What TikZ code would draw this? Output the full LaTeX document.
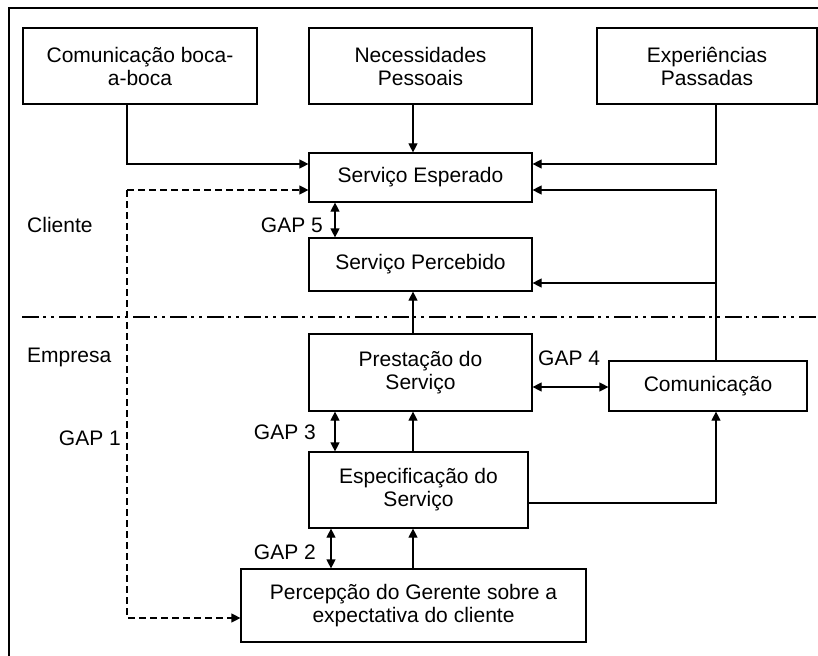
\documentclass[tikz,border=0pt]{standalone}
\usepackage{fontspec}
\setmainfont{Liberation Sans}
\usetikzlibrary{arrows.meta}
\begin{document}
\begin{tikzpicture}[x=1pt,y=-1pt,
  box/.style={draw,line width=1.2pt,rectangle,align=center,inner sep=0pt,font=\fontsize{21}{23}\selectfont},
  lbl/.style={inner sep=0pt,font=\fontsize{21}{23}\selectfont},
  conn/.style={line width=1.2pt},
  tip/.tip={Triangle[length=9pt,width=9pt]},
  arr/.style={conn,-tip},
  darr/.style={conn,tip-tip},
  dsh/.style={conn,dash pattern=on 7pt off 4pt}]
\useasboundingbox (0,0) rectangle (818,655);
\fill[white] (0,0) rectangle (818,655);
\draw[line width=1.4pt] (9,660) -- (9,8) -- (823,8);
% boxes
\node[box,minimum width=234pt,minimum height=76pt] (boca) at (140,66) {Comunicação boca-\\a-boca};
\node[box,minimum width=223pt,minimum height=76pt] (nec) at (420.5,66) {Necessidades\\Pessoais};
\node[box,minimum width=220pt,minimum height=76pt] (exp) at (707,66) {Experiências\\Passadas};
\node[box,minimum width=223pt,minimum height=49pt] (esp) at (420.5,177.5) {Serviço Esperado};
\node[box,minimum width=223pt,minimum height=53pt] (perc) at (420.5,264.5) {Serviço Percebido};
\node[box,minimum width=223pt,minimum height=77pt] (prest) at (420.5,372.5) {Prestação do\\Serviço};
\node[box,minimum width=198pt,minimum height=50pt] (com) at (708,386) {Comunicação};
\node[box,minimum width=219pt,minimum height=76pt] (espec) at (418.5,490) {Especificação do\\Serviço};
\node[box,minimum width=345pt,minimum height=73pt] (ger) at (413.5,605.5) {Percepção do Gerente sobre a\\expectativa do cliente};
% labels
\node[lbl,anchor=west] (cli) at (27,225) {Cliente};
\node[lbl,anchor=west] (emp) at (27,357) {Empresa};
\node[lbl,anchor=east] (g1) at (121,438) {GAP 1};
\node[lbl,anchor=east] (g5) at (323,225) {GAP 5};
\node[lbl,anchor=east] (g3) at (316,432) {GAP 3};
\node[lbl,anchor=east] (g2) at (316,552) {GAP 2};
\node[lbl,anchor=west] (g4) at (538,358) {GAP 4};
% divider
\coordinate (dl) at (22,317);
\coordinate (dr) at (818,317);
\draw[line width=1.2pt,dash pattern=on 17pt off 4pt on 3pt off 5pt on 3pt off 5pt] (dl) -- (dr);
% connectors
\draw[arr] ([xshift=-13pt]boca.south) |- ([yshift=13.5pt]esp.west);
\draw[arr] ([xshift=-7.5pt]nec.south) -- ([xshift=-7.5pt]esp.north);
\draw[arr] ([xshift=9pt]exp.south) |- ([yshift=13.5pt]esp.east);
\coordinate (jc) at (716,283);
\draw[arr] ([xshift=8pt]com.north) |- ([yshift=-12.5pt]esp.east);
\draw[arr] (jc) -- ([yshift=-18.5pt]perc.east);
\draw[arr] ([xshift=-7.5pt]prest.north) -- ([xshift=-7.5pt]perc.south);
\draw[arr] ([xshift=-5.5pt]espec.north) -- ([xshift=-7.5pt]prest.south);
\draw[arr] ([xshift=-0.5pt]ger.north) -- ([xshift=-5.5pt]espec.south);
\draw[arr] ([yshift=-13pt]espec.east) -| ([xshift=8pt]com.south);
\draw[darr] ([yshift=-14.5pt]prest.east) -- ([yshift=-1pt]com.west);
\draw[darr] ([xshift=-85.5pt]esp.south) -- ([xshift=-85.5pt]perc.north);
\draw[darr] ([xshift=-85.5pt]prest.south) -- ([xshift=-83.5pt]espec.north);
\draw[darr] ([xshift=-87.5pt]espec.south) -- ([xshift=-82.5pt]ger.north);
% dashed GAP 1
\coordinate (dc) at (127,190);
\draw[dsh,-tip] (dc) -- ([yshift=-12.5pt]esp.west);
\draw[dsh,-tip] (dc) |- ([yshift=-12.5pt]ger.west);
\end{tikzpicture}
\end{document}
